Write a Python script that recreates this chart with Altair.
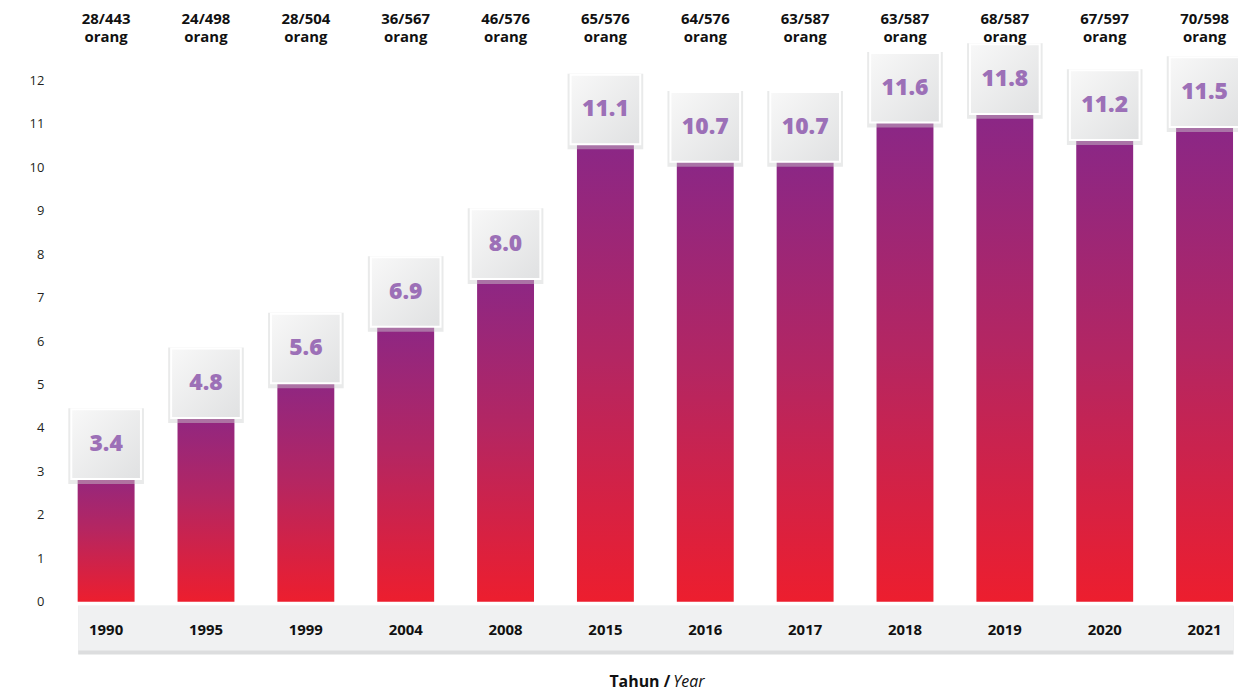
import altair as alt
import pandas as pd

years = ["1990", "1995", "1999", "2004", "2008", "2015", "2016", "2017", "2018", "2019", "2020", "2021"]
counts = ["28/443", "24/498", "28/504", "36/567", "46/576", "65/576", "64/576", "63/587", "63/587", "68/587", "67/597", "70/598"]
values = [3.4, 4.8, 5.6, 6.9, 8.0, 11.1, 10.7, 10.7, 11.6, 11.8, 11.2, 11.5]

keys = [f"{y}|{c}" for y, c in zip(years, counts)]
df = pd.DataFrame({"key": keys, "value": values})
df["label"] = [f"{v:.1f}" for v in values]

FONT = "Open Sans"

bar_grad = alt.LinearGradient(
    gradient="linear", x1=0, y1=0, x2=0, y2=1,
    stops=[alt.GradientStop(offset=0, color="#86278a"),
           alt.GradientStop(offset=0.5, color="#b42662"),
           alt.GradientStop(offset=1, color="#ed1e2e")])
box_grad = alt.LinearGradient(
    gradient="linear", x1=0, y1=0, x2=1, y2=1,
    stops=[alt.GradientStop(offset=0, color="#f8f8f8"),
           alt.GradientStop(offset=1, color="#e0e1e2")])

x_scale = alt.Scale(paddingInner=0.43, paddingOuter=0)
y_scale = alt.Scale(domain=[0, 12], nice=False)
y_axis = alt.Axis(values=list(range(13)), domain=False, ticks=False, grid=False,
                  labelPadding=34, labelFontSize=13, labelColor="#231f20",
                  labelFont=FONT, title=None)
Y = alt.Y("value:Q", scale=y_scale, axis=y_axis)


def X(axis):
    return alt.X("key:N", sort=keys, scale=x_scale, axis=axis)


shadow_axis = alt.Axis(orient="bottom", labels=False, ticks=False, tickSize=0,
                       domainColor="#dcddde", domainWidth=49, offset=28,
                       title=None, zindex=0)
band_axis = alt.Axis(orient="bottom", labels=False, ticks=False, tickSize=0,
                     domainColor="#f0f1f2", domainWidth=45, offset=26,
                     title=None, zindex=1)
label_axis = alt.Axis(orient="bottom", labelExpr="split(datum.label, '|')[0]",
                      ticks=False, tickSize=0, domain=False, labelPadding=28,
                      labelBaseline="middle", labelFont=FONT, labelFontWeight="bold",
                      labelFontSize=15, labelColor="#111111", labelAngle=0,
                      title="Tahun /", titleX=595, titleY=85,
                      titleAlign="right", titleBaseline="alphabetic", titleFont=FONT,
                      titleFontSize=16, titleFontWeight="bold", titleColor="#111111",
                      zindex=2)
top_axis = alt.Axis(orient="top", labelExpr="[split(datum.label, '|')[1], 'orang']",
                    ticks=False, tickSize=0, domain=False, labelPadding=54,
                    labelLineHeight=18, labelFont=FONT, labelFontWeight="bold",
                    labelFontSize=15, labelColor="#111111", labelAngle=0,
                    title="Year", titleX=598, titleY=609, titleAlign="left",
                    titleBaseline="alphabetic", titleFont=FONT, titleFontSize=16,
                    titleFontWeight="normal", titleFontStyle="italic",
                    titleColor="#111111", zindex=1)

bars = alt.Chart(df).mark_bar(color=bar_grad).encode(x=X(shadow_axis), y=Y)

box_shadow = alt.Chart(df).mark_point(
    shape="square", filled=True, size=5776, color="#cfd0d1", opacity=0.45,
    yOffset=-8
).encode(x=X(band_axis), y=Y)

boxes = alt.Chart(df).mark_point(
    shape="square", filled=True, size=4900, fill=box_grad, stroke="#ffffff",
    strokeWidth=2, opacity=1, yOffset=-10
).encode(x=X(label_axis), y=Y)

texts = alt.Chart(df).mark_text(
    font=FONT, fontWeight=800, fontSize=23, color="#9c70b7",
    baseline="middle", yOffset=-10
).encode(x=X(top_axis), y=Y, text="label:N")

chart = alt.layer(bars, box_shadow, boxes, texts).resolve_axis(
    x="independent"
).properties(
    width=1161, height=524,
    padding={"left": 70, "top": 71, "right": 5, "bottom": 91},
    autosize=alt.AutoSizeParams(type="none"),
).configure_view(stroke=None)

chart.save("out.html", embed_options={"renderer": "svg", "actions": False})
